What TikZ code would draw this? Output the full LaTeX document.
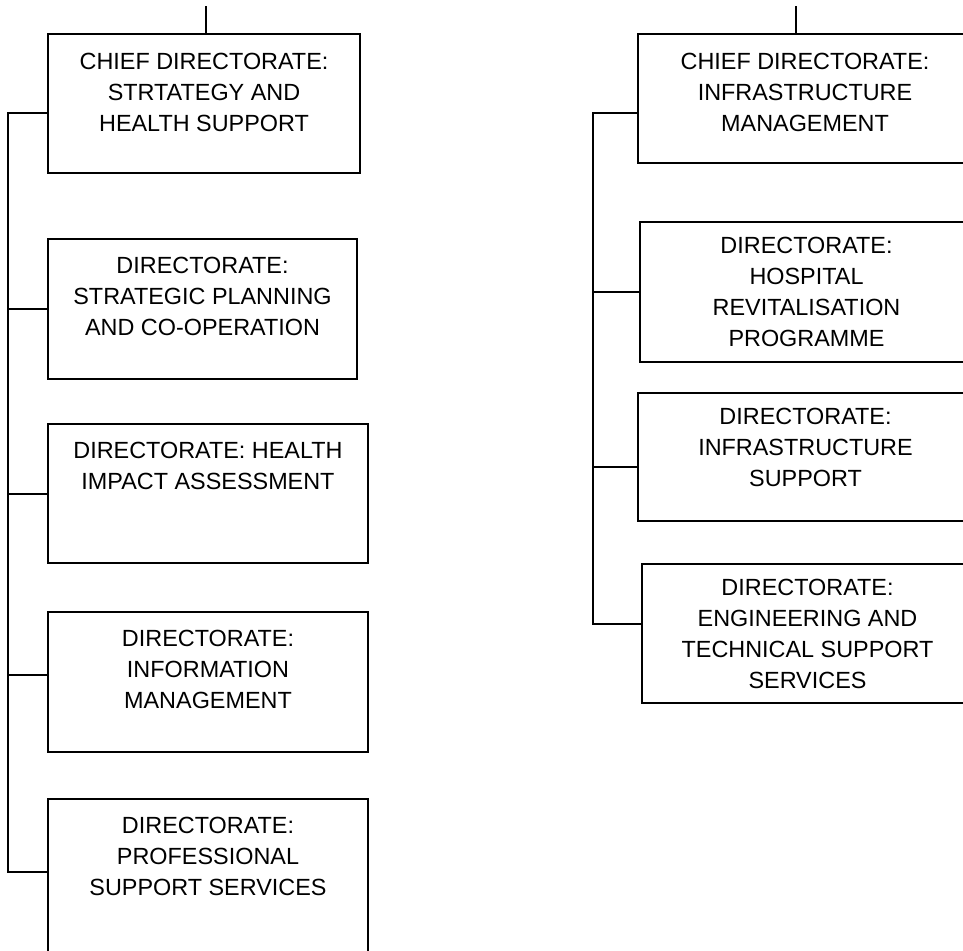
\documentclass[tikz,border=0pt]{standalone}
\usepackage{fontspec}
\setmainfont{Liberation Sans}
\begin{document}
\begin{tikzpicture}[x=1pt,y=-1pt,
  unit/.style={draw=black, line width=1.6pt, fill=none, inner sep=0pt, outer sep=0pt, rectangle},
  lbl/.style={inner sep=0pt, align=center, anchor=north, font=\fontsize{23.4}{31}\selectfont},
  link/.style={draw=black, line width=1.6pt, line cap=rect}]
\useasboundingbox (0,0) rectangle (963,950);
\clip (0,0) rectangle (963,950);

% left column: chief directorate and its directorates
\node[unit, minimum width=312pt, minimum height=139pt] (L1) at (204,103.5) {};
\node[unit, minimum width=309pt, minimum height=140pt] (L2) at (202.5,309) {};
\node[unit, minimum width=320pt, minimum height=139pt] (L3) at (208,493.5) {};
\node[unit, minimum width=320pt, minimum height=140pt] (L4) at (208,682) {};
\node[unit, minimum width=320pt, minimum height=170pt] (L5) at (208,884) {};

\node[lbl] (tL1) at ([yshift=-19pt]L1.north) {CHIEF DIRECTORATE:\\STRTATEGY AND\\HEALTH SUPPORT};
\node[lbl] (tL2) at ([yshift=-18pt]L2.north) {DIRECTORATE:\\STRATEGIC PLANNING\\AND CO-OPERATION};
\node[lbl] (tL3) at ([yshift=-18pt]L3.north) {DIRECTORATE: HEALTH\\IMPACT ASSESSMENT};
\node[lbl] (tL4) at ([yshift=-18pt]L4.north) {DIRECTORATE:\\INFORMATION\\MANAGEMENT};
\node[lbl] (tL5) at ([yshift=-18pt]L5.north) {DIRECTORATE:\\PROFESSIONAL\\SUPPORT SERVICES};

% right column: chief directorate and its directorates
\node[unit, minimum width=334pt, minimum height=129pt] (R1) at (805,98.5) {};
\node[unit, minimum width=333pt, minimum height=140pt] (R2) at (806.5,292) {};
\node[unit, minimum width=335pt, minimum height=128pt] (R3) at (805.5,457) {};
\node[unit, minimum width=331pt, minimum height=139pt] (R4) at (807.5,633.5) {};

\node[lbl] (tR1) at ([yshift=-19pt]R1.north) {CHIEF DIRECTORATE:\\INFRASTRUCTURE\\MANAGEMENT};
\node[lbl] (tR2) at ([yshift=-15pt]R2.north) {DIRECTORATE:\\HOSPITAL\\REVITALISATION\\PROGRAMME};
\node[lbl] (tR3) at ([yshift=-15pt]R3.north) {DIRECTORATE:\\INFRASTRUCTURE\\SUPPORT};
\node[lbl] (tR4) at ([yshift=-15pt]R4.north) {DIRECTORATE:\\ENGINEERING AND\\TECHNICAL SUPPORT\\SERVICES};

% incoming lines from above
\coordinate (upL) at (206,7);
\coordinate (upR) at (796,7);
\draw[link] (upL) -- (upL |- L1.north);
\draw[link] (upR) -- (upR |- R1.north);

% left trunk
\coordinate (trL) at (8,0);
\draw[link] (L1.west |- 0,113) -| (trL |- 0,872) -- (L5.west |- 0,872);
\draw[link] (trL |- 0,309) -- (L2.west |- 0,309);
\draw[link] (trL |- 0,494) -- (L3.west |- 0,494);
\draw[link] (trL |- 0,675) -- (L4.west |- 0,675);

% right trunk
\coordinate (trR) at (593,0);
\draw[link] (R1.west |- 0,113) -| (trR |- 0,624) -- (R4.west |- 0,624);
\draw[link] (trR |- 0,292) -- (R2.west |- 0,292);
\draw[link] (trR |- 0,467) -- (R3.west |- 0,467);
\end{tikzpicture}
\end{document}
